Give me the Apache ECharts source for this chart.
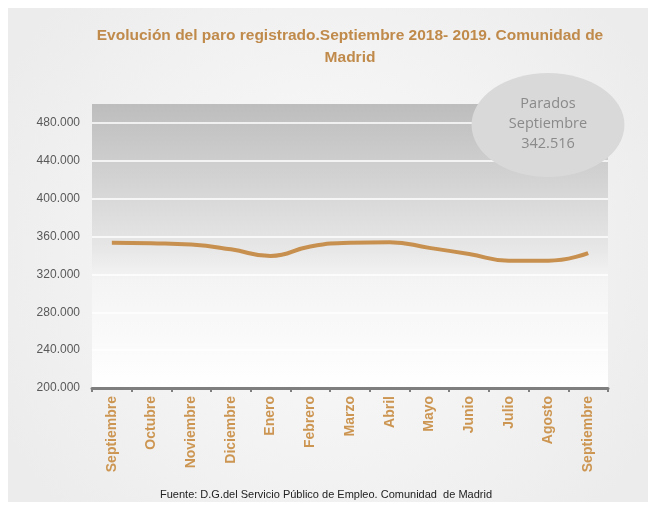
<!DOCTYPE html>
<html>
<head>
<meta charset="utf-8">
<script src="https://cdn.jsdelivr.net/npm/echarts@6/dist/echarts.min.js"></script>
<style>
  html, body { margin: 0; padding: 0; background: #fff; }
  #chart { width: 652px; height: 506px; }
</style>
</head>
<body>
<div id="chart"></div>
<script>
// meses (sept 2018 -> sept 2019)
const months = ["Septiembre", "Octubre", "Noviembre", "Diciembre", "Enero", "Febrero",
  "Marzo", "Abril", "Mayo", "Junio", "Julio", "Agosto", "Septiembre"];
// parados registrados
const parados = [353500, 353000, 351500, 346500, 339500, 349500,
  353500, 354000, 348000, 341500, 334500, 334500, 342516];
const yTicks = [200000, 240000, 280000, 320000, 360000, 400000, 440000, 480000];

const chart = echarts.init(document.getElementById("chart"));

// separador de miles con punto
function fmt(v) {
  return String(v).replace(/\B(?=(\d{3})+(?!\d))/g, ".");
}

const option = {
  backgroundColor: "#fff",
  animation: false,
  graphic: [
    {
      type: "rect",
      z: -10,
      shape: { x: 8, y: 8, width: 640, height: 494 },
      style: {
        fill: new echarts.graphic.RadialGradient(0.5, 0.5, 0.75, [
          { offset: 0, color: "#fbfbfb" },
          { offset: 1, color: "#ececec" },
        ]),
      },
    },
    {
      type: "circle",
      z: 10,
      x: 548,
      y: 125,
      scaleX: 1.47,
      shape: { cx: 0, cy: 0, r: 52 },
      style: { fill: "#d9d9d9" },
    },
    {
      type: "text",
      z: 11,
      x: 548,
      y: 124,
      style: {
        text: "Parados\nSeptiembre\n" + fmt(parados[parados.length - 1]),
        fill: "#8a8a8a",
        font: "14.5px 'Open Sans', sans-serif",
        lineHeight: 20,
        align: "center",
        verticalAlign: "middle",
      },
    },
    {
      type: "text",
      left: "center",
      top: 489,
      style: {
        text: "Fuente: D.G.del Servicio Público de Empleo. Comunidad  de Madrid",
        fill: "#222",
        font: "11px sans-serif",
      },
    },
  ],
  title: {
    text: "Evolución del paro registrado.Septiembre 2018- 2019. Comunidad de\nMadrid",
    left: 345,
    textAlign: "center",
    top: 20,
    textStyle: {
      color: "#c08a4b",
      fontSize: 15.5,
      fontWeight: "bold",
      fontFamily: "Liberation Sans",
      lineHeight: 22,
    },
  },
  grid: {
    left: 92,
    right: 44,
    top: 104,
    bottom: 118,
    show: true,
    borderWidth: 0,
    backgroundColor: new echarts.graphic.LinearGradient(0, 0, 0, 1, [
      { offset: 0, color: "#bdbdbd" },
      { offset: 0.5, color: "#e6e6e6" },
      { offset: 0.62, color: "#f4f4f4" },
      { offset: 1, color: "#ffffff" },
    ]),
  },
  xAxis: {
    type: "category",
    data: months,
    boundaryGap: true,
    axisLine: { lineStyle: { color: "#7f7f7f", width: 3 } },
    axisTick: { show: true, length: 4, lineStyle: { color: "#7f7f7f", width: 2 } },
    axisLabel: {
      rotate: 90,
      interval: 0,
      color: "#cc9652",
      fontSize: 14,
      fontWeight: "bold",
      fontFamily: "Liberation Sans",
      margin: 8,
    },
  },
  yAxis: {
    type: "value",
    min: 200000,
    max: 500000,
    interval: 40000,
    axisLine: { show: false },
    axisTick: { show: false },
    axisLabel: {
      showMaxLabel: false,
      color: "#595959",
      fontSize: 12,
      fontFamily: "Liberation Sans",
      margin: 12,
      formatter: (v) => (yTicks.includes(v) ? fmt(v) : ""),
    },
    splitLine: {
      lineStyle: {
        color: ["#ffffff", "#ffffff", "#ffffff", "#ffffff", "#ffffff",
          "#ffffff", "#ffffff", "#ffffff", "rgba(0,0,0,0)"],
        width: 1.5,
      },
    },
  },
  series: [
    {
      type: "line",
      data: parados,
      smooth: true,
      symbol: "none",
      lineStyle: { color: "#c8904f", width: 4 },
    },
  ],
};

chart.setOption(option);
</script>
</body>
</html>
